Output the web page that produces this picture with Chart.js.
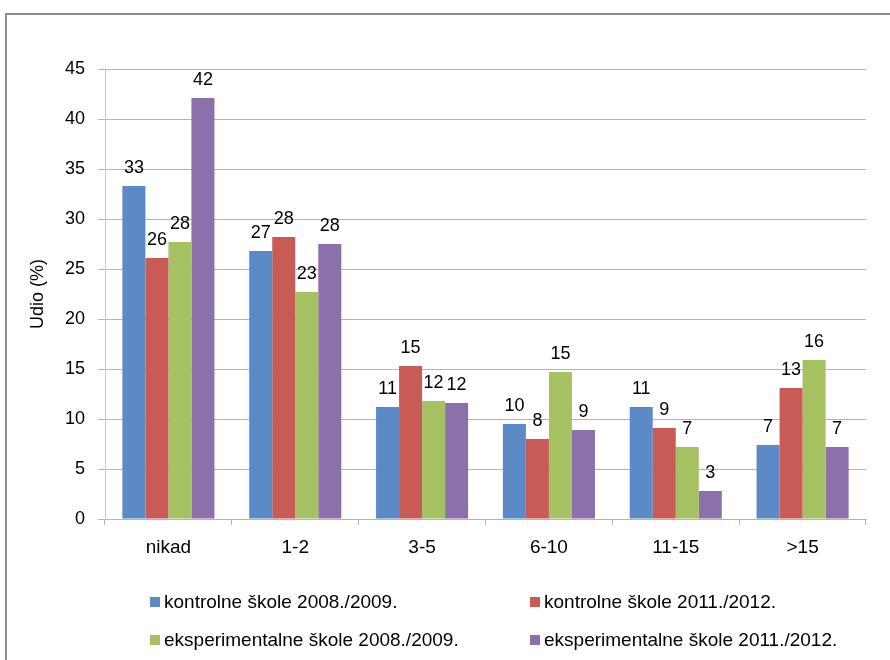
<!DOCTYPE html>
<html>
<head>
<meta charset="utf-8">
<script src="https://cdn.jsdelivr.net/npm/chart.js@4.4.1/dist/chart.umd.min.js"></script>
<style>
    html, body { margin: 0; padding: 0; background: #fff; overflow: hidden; }
    #okvir {
        position: absolute; left: 5px; top: 13px; width: 900px; height: 700px;
        border: 2px solid #8c8c8c; box-sizing: border-box;
    }
    #graf { position: absolute; left: 0; top: 0; }
</style>
</head>
<body>
<div id="okvir"></div>
<canvas id="graf" width="890" height="660"></canvas>
<script>
const kategorije = ["nikad", "1-2", "3-5", "6-10", "11-15", ">15"];
const nazivi = [
    "kontrolne škole 2008./2009.",
    "kontrolne škole 2011./2012.",
    "eksperimentalne škole 2008./2009.",
    "eksperimentalne škole 2011./2012."
];
const kontrolne0809 = [33.3, 26.8, 11.2, 9.5, 11.2, 7.4];
const kontrolne1112 = [26.1, 28.2, 15.3, 8.0, 9.1, 13.1];
const eksper0809 = [27.7, 22.7, 11.8, 14.7, 7.2, 15.9];
const eksper1112 = [42.1, 27.5, 11.6, 8.9, 2.8, 7.2];
const boje = ["#5b8ac6", "#c95b57", "#a5c162", "#8b70ab"];

const font = "'Liberation Sans', Arial, sans-serif";
const siva = "#b4b4b4";

// vrijednosti iznad stupaca
const oznake = {
    id: "oznake",
    afterDatasetsDraw(chart) {
        const ctx = chart.ctx;
        ctx.save();
        ctx.font = "18px " + font;
        ctx.fillStyle = "#000";
        ctx.textAlign = "center";
        ctx.textBaseline = "alphabetic";
        chart.data.datasets.forEach((ds, i) => {
            chart.getDatasetMeta(i).data.forEach((bar, j) => {
                ctx.fillText(Math.round(ds.data[j]), bar.x, bar.y - 13);
            });
        });
        ctx.restore();
    }
};

// legenda u dva stupca
const legenda = {
    id: "legenda",
    afterDraw(chart) {
        const ctx = chart.ctx;
        const stupci = [150, 530];
        const redovi = [602, 640];
        ctx.save();
        ctx.font = "19px " + font;
        ctx.textBaseline = "middle";
        chart.data.datasets.forEach((ds, i) => {
            const x = stupci[i % 2];
            const y = redovi[Math.floor(i / 2)];
            ctx.fillStyle = ds.backgroundColor;
            ctx.fillRect(x, y - 5, 10, 10);
            ctx.fillStyle = "#000";
            ctx.fillText(ds.label, x + 14, y + 1);
        });
        ctx.restore();
    }
};

const serije = [kontrolne0809, kontrolne1112, eksper0809, eksper1112];

new Chart(document.getElementById("graf"), {
    type: "bar",
    data: {
        labels: kategorije,
        datasets: serije.map((d, i) => ({
            label: nazivi[i],
            data: d,
            backgroundColor: boje[i],
            categoryPercentage: 0.726,
            barPercentage: 1.0
        }))
    },
    options: {
        responsive: false,
        animation: false,
        layout: { padding: { left: 0, right: 24, top: 69, bottom: 91 } },
        plugins: {
            legend: { display: false },
            tooltip: { enabled: false }
        },
        scales: {
            x: {
                grid: {
                    offset: true,
                    drawOnChartArea: false,
                    drawTicks: true,
                    tickLength: 6,
                    color: siva
                },
                border: { color: siva },
                ticks: { color: "#000", padding: 11, font: { family: font, size: 19 } },
                afterFit(scale) { scale.height = 50; }
            },
            y: {
                min: 0,
                max: 45,
                ticks: { stepSize: 5, color: "#000", padding: 13, font: { family: font, size: 18 } },
                grid: { color: siva, tickLength: 7 },
                border: { color: "#c8c8c8" },
                title: {
                    display: true,
                    text: "Udio (%)",
                    color: "#000",
                    font: { family: font, size: 18 },
                    padding: { top: 27, bottom: 0 }
                },
                afterFit(scale) { scale.width = 105; }
            }
        }
    },
    plugins: [oznake, legenda]
});
</script>
</body>
</html>
